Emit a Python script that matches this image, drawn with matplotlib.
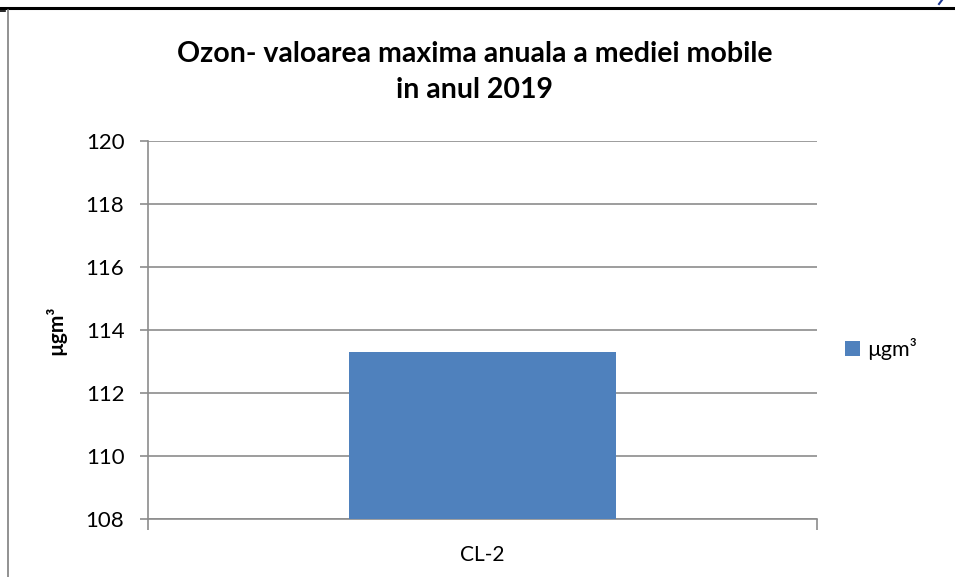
import matplotlib
matplotlib.use("Agg")
import matplotlib.pyplot as plt
from matplotlib.lines import Line2D
from matplotlib.patches import Patch

categories = ["CL-2"]
values = [113.3]
series_name = "µgm³"
title = "Ozon- valoarea maxima anuala a mediei mobile\nin anul 2019"
yticks = [108, 110, 112, 114, 116, 118, 120]

plt.rcParams['font.family'] = ['Lato', 'DejaVu Sans']

W, H = 955, 577
fig = plt.figure(figsize=(W/100, H/100), dpi=100)

def fx(x): return x / W
def fy(y): return 1 - y / H

ax = fig.add_axes([fx(148), fy(519), fx(817) - fx(148), fy(141) - fy(519)])
bar_color = "#4F81BD"
grid_color = "#8C8C8C"

ax.bar(range(len(categories)), values, width=0.4, color=bar_color, bottom=0, zorder=3)
ax.set_xlim(-0.5, len(categories) - 0.5)
ax.set_ylim(yticks[0], yticks[-1])
ax.set_yticks(yticks)
ax.set_yticklabels([str(t) for t in yticks], fontsize=16)
ax.yaxis.grid(True, color=grid_color, linewidth=1.2, zorder=0)
ax.set_xticks([-0.5, 0.5])
ax.set_xticklabels(["", ""])
ax.tick_params(axis='x', length=8, color=grid_color, width=1.2, direction='out')
ax.tick_params(axis='y', length=6, color=grid_color, width=1.2, direction='out', pad=11)
for s in ['top', 'right']:
    ax.spines[s].set_visible(False)
ax.spines['left'].set_color(grid_color)
ax.spines['bottom'].set_color(grid_color)
ax.spines['left'].set_linewidth(1.2)
ax.spines['bottom'].set_linewidth(1.2)
for i, c in enumerate(categories):
    ax.text(i, -0.095, c, transform=ax.get_xaxis_transform(), ha='center', va='center', fontsize=15)

ax.set_ylabel(series_name, fontsize=15, fontweight='bold', labelpad=14)

fig.text(0.497, fy(72), title, ha='center', va='center', fontsize=20.5, fontweight='bold', linespacing=1.5)

handles = [Patch(facecolor=bar_color, edgecolor='none')]
leg = fig.legend(handles, [series_name], loc='center left', bbox_to_anchor=(fx(826), fy(349)),
                 frameon=False, fontsize=15.5, handlelength=0.7, handleheight=0.7, handletextpad=0.3)

# page border lines
fig.add_artist(Line2D([0, 1], [fy(8), fy(8)], color='black', linewidth=2.2))
fig.add_artist(Line2D([fx(8), fx(8)], [fy(10), 0], color='#7F7F7F', linewidth=1.2))
fig.add_artist(Line2D([0, fx(5)], [fy(11), fy(11)], color='black', linewidth=1.2))
fig.add_artist(Line2D([fx(939), fx(942)], [fy(4), fy(0)], color='#1F3A93', linewidth=1.5))

fig.savefig("out.png", dpi=100)
